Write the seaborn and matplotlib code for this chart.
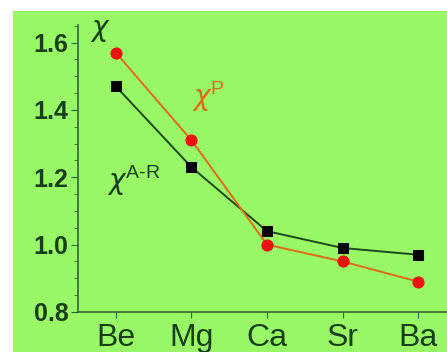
import matplotlib
matplotlib.use("Agg")
import matplotlib.pyplot as plt
import seaborn as sns
import pandas as pd
from matplotlib.ticker import MultipleLocator, FormatStrFormatter

elements = ["Be", "Mg", "Ca", "Sr", "Ba"]
chi_ar = [1.47, 1.23, 1.04, 0.99, 0.97]
chi_p = [1.57, 1.31, 1.00, 0.95, 0.89]

sns.set_style("ticks")
plt.rcParams['font.family'] = ['Liberation Sans', 'DejaVu Sans']
plt.rcParams['mathtext.fontset'] = 'custom'
plt.rcParams['mathtext.rm'] = 'Liberation Sans'
plt.rcParams['mathtext.it'] = 'DejaVu Sans:italic'

green = "#99f866"
dark = "#17401a"
spine_c = "#2d6a2d"
orange = "#e06a1a"

fig = plt.figure(figsize=(4.47, 3.52), dpi=100)
fig.patch.set_facecolor("white")
bg = fig.add_axes([13/447, 0, 1 - 13/447, 1 - 11/352])
bg.set_facecolor(green)
bg.set_xticks([]); bg.set_yticks([])
for s in bg.spines.values():
    s.set_visible(False)

ax = fig.add_axes([78/447, 40/352, 1 - 78/447, (312 - 25)/352])
ax.set_facecolor("none")

df = pd.DataFrame({"el": elements, "x": range(len(elements)), "ar": chi_ar, "p": chi_p})
sns.lineplot(data=df, x="x", y="ar", ax=ax, color="#1c4a1c", lw=1.4,
             marker="s", markersize=7, markerfacecolor="black", markeredgecolor="black")
sns.lineplot(data=df, x="x", y="p", ax=ax, color=orange, lw=1.4,
             marker="o", markersize=8, markerfacecolor="#ee1111", markeredgecolor="#ee1111")

ax.set_xlim(-0.5, 4.38)
ax.set_ylim(0.8, 1.652)
ax.set_xticks(range(len(elements)))
ax.set_xticklabels(elements)
ax.yaxis.set_major_locator(MultipleLocator(0.2))
ax.yaxis.set_minor_locator(MultipleLocator(0.05))
ax.yaxis.set_major_formatter(FormatStrFormatter("%.1f"))
ax.set_xlabel(""); ax.set_ylabel("")
for s in ["top", "right"]:
    ax.spines[s].set_visible(False)
for s in ["left", "bottom"]:
    ax.spines[s].set_color(spine_c)
    ax.spines[s].set_linewidth(1.2)
ax.tick_params(axis="y", which="major", length=5, color=spine_c, labelsize=18, labelcolor=dark, pad=2)
ax.tick_params(axis="y", which="minor", length=3, color=spine_c)
ax.tick_params(axis="x", length=4, color=spine_c, labelsize=23, labelcolor=dark, pad=4)
for lab in ax.get_yticklabels():
    lab.set_fontweight("bold")

ax.annotate(r"$\chi$", xy=(-0.2, 1.633), xycoords="data", fontsize=20, color=dark,
            ha="center", va="center", annotation_clip=False)
ax.text(1.22, 1.44, r"$\chi^{\mathrm{P}}$", fontsize=20, color=orange, ha="center", va="center")
ax.text(0.24, 1.19, r"$\chi^{\mathrm{A\text{-}R}}$", fontsize=20, color=dark, ha="center", va="center")

fig.savefig("out.png", dpi=100, facecolor="white")
